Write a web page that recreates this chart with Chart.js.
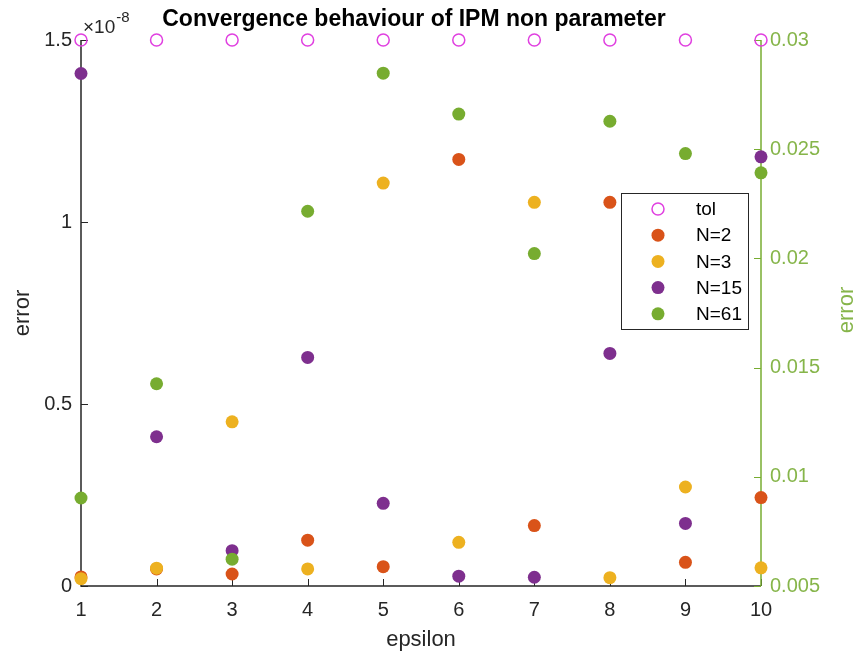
<!DOCTYPE html>
<html>
<head>
<meta charset="utf-8">
<script src="https://cdn.jsdelivr.net/npm/chart.js@4.4.1/dist/chart.umd.min.js"></script>
<style>
  html, body { margin: 0; padding: 0; background: #fff; }
  #contenedor { width: 857px; height: 654px; }
</style>
</head>
<body>
<div id="contenedor"><canvas id="grafico"></canvas></div>
<script>
// datos
const epsilon = [1, 2, 3, 4, 5, 6, 7, 8, 9, 10];
// eje izquierdo, en unidades de 1e-8
const tol = [1.5, 1.5, 1.5, 1.5, 1.5, 1.5, 1.5, 1.5, 1.5, 1.5];
const errN2 = [0.025, 0.047, 0.033, 0.126, 0.053, 1.172, 0.166, 1.054, 0.065, 0.243];
const errN3 = [0.020, 0.049, 0.451, 0.047, 1.107, 0.120, 1.054, 0.023, 0.272, 0.050];
const errN15 = [1.408, 0.410, 0.097, 0.628, 0.227, 0.027, 0.024, 0.639, 0.172, 1.179];
// eje derecho
const errN61 = [0.00903, 0.01426, 0.00623, 0.02216, 0.02848, 0.02661, 0.02022, 0.02628, 0.0248, 0.02392];

const ticksX = [1, 2, 3, 4, 5, 6, 7, 8, 9, 10];
const ticksIzq = [0, 0.5, 1, 1.5];
const ticksDer = [0.005, 0.01, 0.015, 0.02, 0.025, 0.03];

const FUENTE = '"Liberation Sans", Arial, Helvetica, sans-serif';
const GRIS = '#262626';
const VERDE = '#77AC30';
const VERDE_TEXTO = '#86B54A';

const puntos = arr => epsilon.map((x, i) => ({ x: x, y: arr[i] }));

function serie(nombre, valores, color, orden, eje) {
    return {
        label: nombre,
        data: puntos(valores),
        yAxisID: eje || 'y',
        backgroundColor: color,
        borderColor: color,
        borderWidth: 0,
        pointRadius: 6.5,
        pointHoverRadius: 6.5,
        order: orden,
        clip: false
    };
}

const datasets = [
    {
        label: 'tol',
        data: puntos(tol),
        yAxisID: 'y',
        backgroundColor: 'rgba(0,0,0,0)',
        borderColor: '#E040E0',
        borderWidth: 1.5,
        pointRadius: 6,
        pointHoverRadius: 6,
        order: 5,
        clip: false
    },
    serie('N=2', errN2, '#D95319', 4),
    serie('N=3', errN3, '#EDB120', 3),
    serie('N=15', errN15, '#7E2F8E', 2),
    serie('N=61', errN61, VERDE, 1, 'y2')
];

// lineas de ejes y marcas hacia dentro, como en matlab
const marcasInternas = {
    id: 'marcasInternas',
    beforeDatasetsDraw(chart) {
        const { ctx, chartArea: a, scales } = chart;
        const largo = 7;
        ctx.save();
        ctx.lineWidth = 1.5;
        ctx.strokeStyle = GRIS;
        ctx.beginPath();
        ctx.moveTo(a.left, a.top);
        ctx.lineTo(a.left, a.bottom);
        ctx.lineTo(a.right, a.bottom);
        ctx.stroke();
        ctx.lineWidth = 1;
        ctx.beginPath();
        scales.x.ticks.forEach(t => {
            const px = Math.round(scales.x.getPixelForValue(t.value)) + 0.5;
            ctx.moveTo(px, a.bottom);
            ctx.lineTo(px, a.bottom - largo);
        });
        scales.y.ticks.forEach(t => {
            const py = Math.round(scales.y.getPixelForValue(t.value)) + 0.5;
            ctx.moveTo(a.left, py);
            ctx.lineTo(a.left + largo, py);
        });
        ctx.stroke();
        ctx.strokeStyle = VERDE;
        ctx.lineWidth = 1.5;
        ctx.beginPath();
        ctx.moveTo(a.right, a.top);
        ctx.lineTo(a.right, a.bottom);
        ctx.stroke();
        ctx.lineWidth = 1;
        ctx.beginPath();
        scales.y2.ticks.forEach(t => {
            const py = Math.round(scales.y2.getPixelForValue(t.value)) + 0.5;
            ctx.moveTo(a.right, py);
            ctx.lineTo(a.right - largo, py);
        });
        ctx.stroke();
        ctx.restore();
    }
};

// titulo, exponente, etiqueta derecha y leyenda
const textosExtra = {
    id: 'textosExtra',
    afterDraw(chart) {
        const { ctx, chartArea: a } = chart;
        ctx.save();

        ctx.fillStyle = '#000';
        ctx.font = 'bold 23px ' + FUENTE;
        ctx.textAlign = 'center';
        ctx.textBaseline = 'alphabetic';
        ctx.fillText('Convergence behaviour of IPM non parameter', 414, 26);

        ctx.fillStyle = GRIS;
        ctx.textAlign = 'left';
        ctx.font = '19px ' + FUENTE;
        ctx.fillText('\u00d710', a.left + 2, 33);
        const anchoBase = ctx.measureText('\u00d710').width;
        ctx.font = '15px ' + FUENTE;
        ctx.fillText('-8', a.left + 3 + anchoBase, 22);

        ctx.save();
        ctx.translate(847, 310);
        ctx.rotate(-Math.PI / 2);
        ctx.fillStyle = VERDE_TEXTO;
        ctx.font = '22px ' + FUENTE;
        ctx.textAlign = 'center';
        ctx.textBaseline = 'middle';
        ctx.fillText('error', 0, 0);
        ctx.restore();

        const caja = { x: 621, y: 193, w: 127, h: 136 };
        ctx.fillStyle = '#fff';
        ctx.fillRect(caja.x, caja.y, caja.w, caja.h);
        ctx.strokeStyle = GRIS;
        ctx.lineWidth = 1;
        ctx.strokeRect(caja.x + 0.5, caja.y + 0.5, caja.w, caja.h);

        ctx.font = '19px ' + FUENTE;
        ctx.textBaseline = 'middle';
        ctx.textAlign = 'left';
        chart.data.datasets.forEach((ds, i) => {
            const cy = caja.y + 16 + i * 26.2;
            const cx = caja.x + 37;
            ctx.beginPath();
            ctx.arc(cx, cy, ds.pointRadius, 0, Math.PI * 2);
            if (ds.borderWidth > 0) {
                ctx.strokeStyle = ds.borderColor;
                ctx.lineWidth = ds.borderWidth;
                ctx.stroke();
            } else {
                ctx.fillStyle = ds.backgroundColor;
                ctx.fill();
            }
            ctx.fillStyle = '#000';
            ctx.fillText(ds.label, caja.x + 75, cy + 1);
        });
        ctx.restore();
    }
};

const fijarTicks = lista => scale => {
    scale.ticks = lista.map(v => ({ value: v }));
};

new Chart(document.getElementById('grafico'), {
    type: 'scatter',
    data: { datasets: datasets },
    options: {
        responsive: true,
        maintainAspectRatio: false,
        animation: false,
        layout: { padding: { top: 40, left: 0, right: 0, bottom: 0 } },
        plugins: {
            legend: { display: false },
            title: { display: false },
            tooltip: { enabled: false }
        },
        scales: {
            x: {
                type: 'linear',
                min: 1,
                max: 10,
                afterBuildTicks: fijarTicks(ticksX),
                afterFit: s => { s.height = 68; },
                grid: { display: false, drawTicks: false },
                border: { display: false },
                ticks: {
                    color: GRIS,
                    padding: 12,
                    font: { family: FUENTE, size: 20 },
                    callback: v => String(v)
                },
                title: {
                    display: true,
                    text: 'epsilon',
                    color: GRIS,
                    font: { family: FUENTE, size: 22 },
                    padding: { top: 0, bottom: 1 }
                }
            },
            y: {
                type: 'linear',
                position: 'left',
                min: 0,
                max: 1.5,
                afterBuildTicks: fijarTicks(ticksIzq),
                afterFit: s => { s.width = 81; },
                grid: { display: false, drawTicks: false },
                border: { display: false },
                ticks: {
                    color: GRIS,
                    padding: 9,
                    font: { family: FUENTE, size: 20 },
                    callback: v => String(v)
                },
                title: {
                    display: true,
                    text: 'error',
                    color: GRIS,
                    font: { family: FUENTE, size: 22 },
                    padding: { top: 10, bottom: 0 }
                }
            },
            y2: {
                type: 'linear',
                position: 'right',
                min: 0.005,
                max: 0.03,
                afterBuildTicks: fijarTicks(ticksDer),
                afterFit: s => { s.width = 96; },
                grid: { display: false, drawTicks: false },
                border: { display: false },
                ticks: {
                    color: VERDE_TEXTO,
                    padding: 9,
                    font: { family: FUENTE, size: 20 },
                    callback: v => String(v)
                }
            }
        }
    },
    plugins: [marcasInternas, textosExtra]
});
</script>
</body>
</html>
